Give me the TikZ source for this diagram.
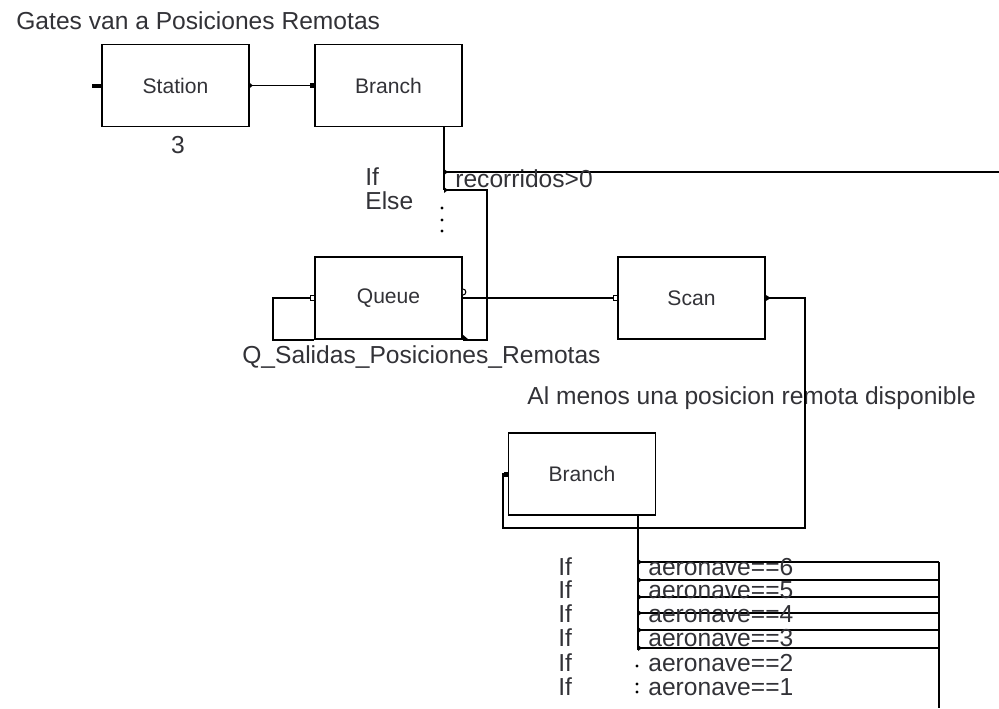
\documentclass[tikz,border=0pt]{standalone}
\usepackage{fontspec}
\setmainfont{Liberation Sans}
\usepackage{tikz}
\usetikzlibrary{positioning}
\usepackage{xcolor}
\definecolor{arenagray}{RGB}{50,50,55}

\begin{document}
\begin{tikzpicture}[
    x=0.02cm, y=-0.02cm,
    font=\fontsize{14}{16}\selectfont,
    wire/.style={draw=black, line width=0.85pt},
    block/.style={draw=black, line width=1pt, minimum width=2.94cm, minimum height=1.64cm,
      inner sep=0pt, text=arenagray, font=\fontsize{12}{14}\selectfont},
    lbl/.style={anchor=west, inner sep=0pt, text=arenagray},
    port/.style={fill=black},
    openport/.style={draw=black, fill=white, line width=0.6pt},
  ]

  \useasboundingbox (0,0) rectangle (999,708);

  % --- titles ---
  \node[lbl] (title) at (16,21) {Gates van a Posiciones Remotas};
  \node[text=arenagray, inner sep=0pt] (batch) at (178,145) {3};
  \node[lbl] (qname) at (242,357) {Q\_Salidas\_Posiciones\_Remotas};
  \node[lbl] (scannote) at (527,398) {Al menos una posicion remota disponible};

  % --- modules ---
  \node[block] (station) at (175.5,85.5) {Station};
  \node[block] (branchA) at (388.5,85.5) {Branch};
  \node[block] (queue) at (388.5,298) {Queue};
  \node[block] (scan) at (691.5,298) {Scan};
  \node[block] (branchB) at (582,474) {Branch};

  % --- Station -> Branch ---
  \fill[port] (station.west) +(-9,-2) rectangle +(0,2);
  \draw[wire] (station.east) -- (branchA.west);
  \fill[port] (station.east) +(0,-2.5) -- +(3,0) -- +(0,2.5) -- cycle;
  \fill[port] (branchA.west) +(-4,-2.5) rectangle +(0,2.5);

  % --- first branch: if / else ---
  \coordinate (ifA) at (444,172);
  \coordinate (elseA) at (444,190);
  \coordinate (exitR) at (999,172);
  \draw[wire] (branchA.south -| ifA) -- (elseA);
  \draw[wire] (ifA) -- (exitR);
  \draw[wire] (elseA) -- (487,190) |- (queue.south east);
  \foreach \p in {ifA,elseA}
    \fill[port] (\p) +(0,-3) -- +(4,0) -- +(0,3) -- cycle;
  \foreach \d in {208,220,231}
    \fill (442,\d) circle (0.9pt);
  \node[lbl] (ifAtxt) at (365,177) {If};
  \node[lbl] (elseAtxt) at (365,201) {Else};
  \node[lbl] (condA) at (455,179) {recorridos>0};
  \fill[port] (queue.south east) +(-1,-6) -- +(6,0) -- +(-1,0) -- cycle;

  % --- Queue loop and Queue -> Scan ---
  \draw[wire] (queue.west) -- ++(-41,0) |- (queue.south west);
  \draw[wire] (queue.east) -- (scan.west);
  \draw[openport] (queue.west) +(-4,-2.5) rectangle +(0,2.5);
  \draw[openport] (queue.east) +(0,-3) arc (90:-90:3);
  \draw[openport] (scan.west) +(-4,-2.5) rectangle +(0,2.5);

  % --- Scan -> second branch ---
  \draw[wire] (scan.east) -- (805,298) |- (503,528) |- (branchB.west);
  \fill[port] (scan.east) +(0,-3) -- +(5,0) -- +(0,3) -- cycle;
  \fill[port] (branchB.west) +(-4,-2.5) rectangle +(0,2.5);

  % --- second branch: aeronave cases ---
  \coordinate (sinkTop) at (939,562);
  \coordinate (sinkBot) at (939,708);
  \draw[wire] (branchB.south -| 638,0) -- (638,650);
  \draw[wire] (sinkTop) -- (sinkBot);
  \foreach \k/\yy in {1/562,2/580,3/597,4/613,5/630,6/648} {
    \coordinate (bout\k) at (638,\yy);
    \draw[wire] (bout\k) -- (bout\k -| sinkTop);
    \fill[port] (bout\k) +(0,-3) -- +(4,0) -- +(0,3) -- cycle;
  }
  \foreach \d in {666,684,692}
    \fill (637,\d) circle (0.9pt);
  \foreach \n/\yy in {6/567,5/590,4/614,3/638,2/663,1/687} {
    \node[lbl] (if\n) at (558,\yy) {If};
    \node[lbl] (cond\n) at (648,\yy) {aeronave==\n};
  }

\end{tikzpicture}
\end{document}
